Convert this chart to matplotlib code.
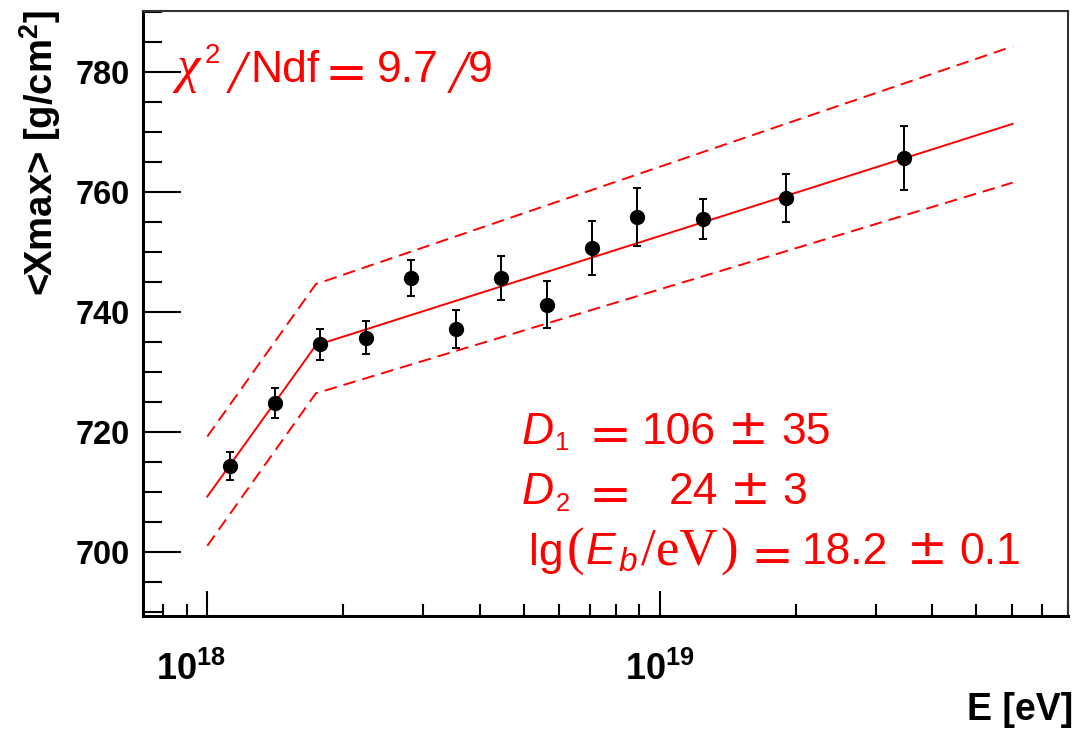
import numpy as np
import matplotlib
matplotlib.use("Agg")
import matplotlib.pyplot as plt
import matplotlib.transforms as mtransforms
from matplotlib.ticker import FixedLocator, NullFormatter

# <Xmax> vs energy with broken-line fit (ROOT style)

# data
lg_E = [18.05, 18.15, 18.25, 18.35, 18.45, 18.55, 18.65, 18.75, 18.85, 18.95, 19.095, 19.28, 19.54]
xmax = [714.3, 724.8, 734.6, 735.7, 745.6, 737.1, 745.6, 741.2, 750.6, 755.8, 755.4, 758.9, 765.6]
xmax_err = [2.3, 2.5, 2.6, 2.8, 3.0, 3.2, 3.7, 3.9, 4.5, 4.8, 3.3, 4.0, 5.4]

# fit line (broken line) and its band, vertices
fit_lgE = [18.0, 18.24, 19.78]
fit_mid = [709.2, 734.4, 771.3]
fit_up = [719.2, 744.6, 784.2]
fit_lo = [701.0, 726.4, 761.5]

chi2_val, ndf = '9.7', '9'
d1_val, d1_err = '106', '35'
d2_val, d2_err = '24', '3'
lgeb_val, lgeb_err = '18.2', '0.1'

plt.rcParams['font.family'] = ['Liberation Sans', 'DejaVu Sans']
plt.rcParams['mathtext.fontset'] = 'custom'
plt.rcParams['mathtext.bf'] = 'Liberation Sans:bold'

W, H = 1083, 729
fig = plt.figure(figsize=(W / 100, H / 100), dpi=100)
ax = fig.add_axes([0.1318, 0.155, 0.8546, 0.8299])

E = 10.0 ** np.asarray(lg_E)
fE = 10.0 ** np.asarray(fit_lgE)

ax.plot(fE, fit_mid, color='red', lw=1.4)
ax.plot(fE, fit_up, color='red', lw=1.4, ls=(0, (6.5, 3.6)))
ax.plot(fE, fit_lo, color='red', lw=1.4, ls=(0, (6.5, 3.6)))
ax.errorbar(E, xmax, yerr=xmax_err, fmt='o', color='black', ms=10,
            elinewidth=1.4, capsize=3, capthick=1.4, zorder=5)

ax.set_xscale('log')
ax.set_xlim(7.2e17, 8.0e19)
ax.set_ylim(689.3, 790.1)

ax.xaxis.set_major_locator(FixedLocator([1e18, 1e19]))
ax.set_xticklabels([r'$\mathbf{10^{18}}$', r'$\mathbf{10^{19}}$'])
minors = [m * 10.0 ** d for d in (17, 18, 19) for m in range(2, 10)]
ax.xaxis.set_minor_locator(FixedLocator(minors))
ax.xaxis.set_minor_formatter(NullFormatter())
ax.yaxis.set_major_locator(FixedLocator([700, 720, 740, 760, 780]))
ax.yaxis.set_minor_locator(FixedLocator(np.arange(690, 791, 5)))

ax.tick_params(axis='both', which='both', direction='in', top=False, right=False)
ax.tick_params(axis='x', which='major', length=18, width=1.5, labelsize=26, pad=26)
ax.tick_params(axis='x', which='minor', length=9, width=1.5)
ax.tick_params(axis='y', which='major', length=27, width=1.5, labelsize=23.5, pad=9)
ax.tick_params(axis='y', which='minor', length=14, width=1.5)
for lab in ax.get_yticklabels():
    lab.set_fontweight('bold')

# first x label sits a little left of its tick, as in ROOT
first = ax.xaxis.get_major_ticks()[0].label1
first.set_transform(first.get_transform() +
                    mtransforms.ScaledTranslation(-12 / 72, 0, fig.dpi_scale_trans))

for side in ['left', 'bottom']:
    ax.spines[side].set_linewidth(2.2)
for side in ['top', 'right']:
    ax.spines[side].set_linewidth(1.5)
    ax.spines[side].set_color('#333333')


# TLatex-like red text, assembled piece by piece (pixel positions)
def put(s, x, base, size, family='Liberation Sans', style='normal'):
    fig.text(x / W, 1 - base / H, s, fontsize=size, color='red',
             family=family, style=style, ha='left', va='baseline')


def eq(x, base):
    put('=', x, base + 7.5, 37, family='DejaVu Sans')


def pm(x, base):
    put('\u00b1', x, base, 35, family='DejaVu Sans')


# chi2 / ndf
b0 = 82
put('\u03c7', 176, b0, 38, family='Liberation Serif', style='italic')
put('2', 205, 63, 20)
put('/', 229, b0 + 10, 44, family='Liberation Serif', style='italic')
put('Ndf', 250, b0, 32)
eq(324, b0)
put(chi2_val, 377, b0, 32)
put('/', 450, b0 + 10, 44, family='Liberation Serif', style='italic')
put(ndf, 468, b0, 32)

# D1
b1 = 443.5
put('D', 522, b1, 32, style='italic')
put('1', 555, b1 + 6.7, 18.4)
eq(588.5, b1)
put(d1_val, 642, b1, 32)
pm(728, b1)
put(d1_err, 781, b1, 32)

# D2
b2 = 504
put('D', 522, b2, 32, style='italic')
put('2', 556, b2 + 6.7, 18.4)
eq(588.5, b2)
put(d2_val, 668.5, b2, 32)
pm(730, b2)
put(d2_err, 782, b2, 32)

# lg(Eb/eV)
b3 = 564.5
put('lg', 529, b3, 32)
put('(', 566.5, b3, 38, family='Liberation Serif')
put('E', 585.5, b3, 32, style='italic')
put('b', 619, b3 + 6.7, 24, style='italic')
put('/', 641, b3, 38, family='Liberation Serif')
put('eV', 655.5, b3, 38, family='Liberation Serif')
put(')', 720.5, b3, 38, family='Liberation Serif')
eq(750.5, b3)
put(lgeb_val, 802, b3, 32)
pm(907, b3)
put(lgeb_err, 959, b3, 32)

fig.text(0.9908, 0.0123, 'E [eV]', fontsize=27, fontweight='bold',
         ha='right', va='baseline')
fig.text(0.037, 0.986, r'<Xmax> [g/cm$^\mathbf{2}$]', fontsize=27.5, fontweight='bold',
         rotation=90, ha='center', va='top')

fig.savefig('out.png', dpi=100)
